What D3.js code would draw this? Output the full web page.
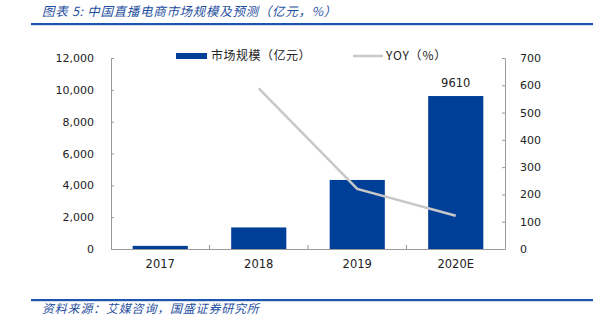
<!DOCTYPE html>
<html><head><meta charset="utf-8">
<script src="https://cdn.jsdelivr.net/npm/d3@7"></script>
<style>body{margin:0;background:#fff}svg{display:block}</style>
</head><body>
<svg id="c" width="601" height="324"></svg>
<script>
const categories = ["2017", "2018", "2019", "2020E"];
const marketSize = [196, 1354, 4338, 9610];
const yoy = [null, 589, 220, 122];
const leftTicks = [0, 2000, 4000, 6000, 8000, 10000, 12000];
const rightTicks = [0, 100, 200, 300, 400, 500, 600, 700];
const titleText = "图表 5:  中国直播电商市场规模及预测（亿元，%）";
const sourceText = "资料来源：艾媒咨询，国盛证券研究所";
const seriesNames = ["市场规模（亿元）", "YOY（%）"];

(function () {
const svg = d3.select("#c");
const pL = 111, pR = 505, pT = 58, pB = 249;
const blue = "#003f98", grey = "#c8c8c8", axisCol = "#9a9a9a";
const font = "DejaVu Sans, Verdana, sans-serif";

// header / footer
svg.append("text").attr("x", 42).attr("y", 16).text(titleText)
  .attr("font-family", "Noto Sans CJK SC").attr("font-style", "italic")
  .attr("font-size", 12.5).attr("letter-spacing", 0.7).attr("fill", "#1f4fa0");
svg.append("rect").attr("x", 31).attr("y", 23).attr("width", 562).attr("height", 2.2).attr("fill", "#1c55b0");
svg.append("rect").attr("x", 31).attr("y", 299).attr("width", 562).attr("height", 2.2).attr("fill", "#1c55b0");
svg.append("text").attr("x", 42).attr("y", 313).text(sourceText)
  .attr("font-family", "Noto Sans CJK SC").attr("font-style", "italic")
  .attr("font-size", 12).attr("letter-spacing", 0.8).attr("fill", "#1f4fa0");

const x = d3.scaleBand().domain(categories).range([pL, pR]).paddingInner(0.44).paddingOuter(0.22);
const xb = d3.scaleBand().domain(categories).range([pL, pR]);
const yL = d3.scaleLinear().domain([0, 12000]).range([pB, pT]);
const yR = d3.scaleLinear().domain([0, 700]).range([pB, pT]);

// bars
svg.append("g").selectAll("rect").data(marketSize).join("rect")
  .attr("x", (d, i) => x(categories[i])).attr("width", x.bandwidth())
  .attr("y", d => yL(d)).attr("height", d => pB - yL(d)).attr("fill", blue);

// label on last bar
svg.append("text").attr("x", x(categories[3]) + x.bandwidth() / 2).attr("y", yL(marketSize[3]) - 9)
  .attr("text-anchor", "middle").attr("font-family", font).attr("font-size", 11.5).attr("fill", "#222")
  .text(marketSize[3]);

// line
const pts = yoy.map((v, i) => [categories[i], v]).filter(p => p[1] != null);
svg.append("path").datum(pts)
  .attr("d", d3.line().x(p => xb(p[0]) + xb.bandwidth() / 2).y(p => yR(p[1])))
  .attr("fill", "none").attr("stroke", grey).attr("stroke-width", 2.5);

// axes
const gL = svg.append("g").attr("transform", `translate(${pL},0)`)
  .call(d3.axisLeft(yL).tickValues(leftTicks).tickFormat(d3.format(",")).tickSizeInner(-3).tickSizeOuter(0).tickPadding(17));
const gR = svg.append("g").attr("transform", `translate(${pR},0)`)
  .call(d3.axisRight(yR).tickValues(rightTicks).tickSizeInner(-3).tickSizeOuter(0).tickPadding(15));
const gX = svg.append("g").attr("transform", `translate(0,${pB})`)
  .call(d3.axisBottom(xb).tickSize(0).tickPadding(11));
gX.selectAll(".tick line").remove();
gX.selectAll(".sep").data(categories.slice(1)).join("line").attr("class", "sep")
  .attr("x1", d => xb(d)).attr("x2", d => xb(d)).attr("y1", 0).attr("y2", -4).attr("stroke", axisCol);
[gL, gR, gX].forEach(g => {
  g.selectAll(".domain").attr("stroke", axisCol);
  g.selectAll(".tick line").attr("stroke", axisCol);
  g.selectAll("text").attr("font-family", font).attr("font-size", 11).attr("fill", "#222");
});
gX.selectAll("text").attr("font-size", 11.5);

// legend
const lg = svg.append("g").attr("font-family", "Noto Sans CJK SC, " + font).attr("font-size", 12).attr("fill", "#222");
lg.append("rect").attr("x", 176).attr("y", 53).attr("width", 31).attr("height", 6).attr("fill", blue);
lg.append("text").attr("x", 211).attr("y", 60).attr("letter-spacing", 0.5).text(seriesNames[0]);
lg.append("line").attr("x1", 353).attr("x2", 383).attr("y1", 56).attr("y2", 56).attr("stroke", grey).attr("stroke-width", 2.5);
lg.append("text").attr("x", 386).attr("y", 60).attr("letter-spacing", 0.8).text(seriesNames[1]);
})();
</script>
</body></html>
